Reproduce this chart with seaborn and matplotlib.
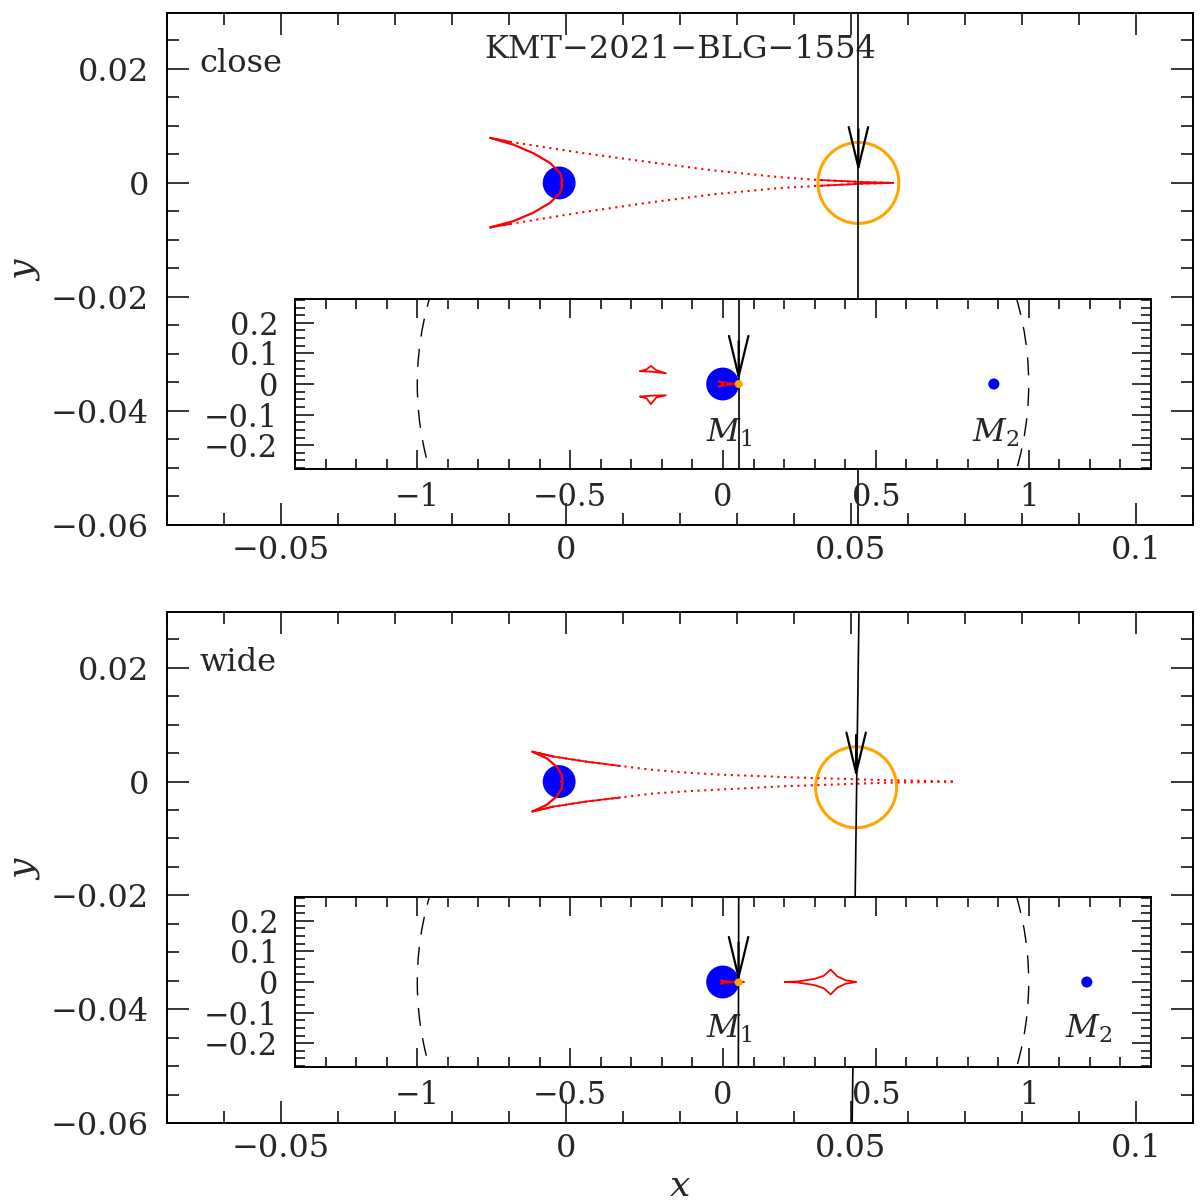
import matplotlib
matplotlib.use("Agg")
import matplotlib.pyplot as plt
from matplotlib.patches import Circle
from matplotlib.ticker import MultipleLocator, FixedLocator, FixedFormatter
import seaborn as sns

sns.set_style("ticks")
plt.rcParams["font.family"] = ["DejaVu Serif"]
plt.rcParams["mathtext.fontset"] = "dejavuserif"

# ---------------- values (units of theta_E) ----------------
event_name = "KMT\u22122021\u2212BLG\u22121554"
panel_names = ["close", "wide"]

# central caustic, close solution
close_arc_x = [-0.0133, -0.0092, -0.0057, -0.0028, -0.00105, -0.0006, -0.0009,
               -0.0006, -0.00105, -0.0028, -0.0057, -0.0092, -0.0133]
close_arc_y = [0.0079, 0.0067, 0.0052, 0.0035, 0.00175, 0.0003, 0.0,
               -0.0003, -0.00175, -0.0035, -0.0052, -0.0067, -0.0078]
close_fold_x = [-0.0133, -0.0098, 0.0025, 0.0142, 0.0258, 0.0375, 0.0446, 0.0522, 0.0574]
close_fold_up = [0.0079, 0.0072, 0.0053, 0.0037, 0.0022, 0.0010, 0.0005, 0.00015, 0.0]
close_fold_lo = [-0.0078, -0.0072, -0.0052, -0.0035, -0.0020, -0.0009, -0.0005, -0.00012, 0.0]

# central caustic, wide solution
wide_arc_x = [-0.0059, -0.0034, -0.0016, -0.00075, -0.0006, -0.0009,
              -0.0006, -0.00075, -0.0016, -0.0034, -0.0059]
wide_arc_y = [0.00525, 0.0041, 0.0026, 0.0012, 0.0002, 0.0,
              -0.0002, -0.0012, -0.0026, -0.0041, -0.00525]
wide_fold_x = [-0.0059, -0.0022, 0.0036, 0.0095, 0.0153, 0.0212, 0.0270,
               0.0329, 0.0387, 0.0446, 0.0504, 0.0563, 0.068]
wide_fold_up = [0.00525, 0.0044, 0.0035, 0.00275, 0.00205, 0.00157, 0.00122,
                0.0010, 0.00077, 0.00059, 0.00042, 0.00025, 0.0]
wide_fold_lo = [-0.00525, -0.0044, -0.0035, -0.0028, -0.0021, -0.0017, -0.0014,
                -0.0011, -0.0008, -0.0006, -0.0004, -0.0002, 0.0]

# planetary caustics (inset)
close_planet_x = [-0.271, -0.250, -0.236, -0.218, -0.187, -0.229, -0.271]
close_planet_up = [0.042, 0.048, 0.059, 0.045, 0.035, 0.040, 0.042]
close_planet_lo = [-0.041, -0.047, -0.066, -0.044, -0.037, -0.038, -0.041]
wide_planet_x = [0.202, 0.243, 0.298, 0.330, 0.352, 0.374, 0.401, 0.436,
                 0.401, 0.374, 0.352, 0.330, 0.298, 0.243, 0.202]
wide_planet_y = [0.0, 0.0016, 0.0098, 0.0205, 0.0407, 0.0183, 0.0057, 0.0,
                 -0.0057, -0.0183, -0.0407, -0.0205, -0.0098, -0.0016, 0.0]

# lenses, source and trajectories
m1_x = [-0.0012, -0.0012]
m2_x = [0.886, 1.19]
source_x = [0.0513, 0.0509]
source_y = [0.0, -0.001]
source_rho = 0.0071
traj_x = [[0.0513, 0.0513], [0.0514, 0.0502]]
traj_y = [0.03, -0.06]
arrow_tip_main = [0.0019, 0.0007]
arrow_tip_inset = [0.01, 0.0]
m_label_y = [-0.16, -0.155]

main_xticks = [-0.05, 0, 0.05, 0.1]
main_xlabels = ["\u22120.05", "0", "0.05", "0.1"]
main_yticks = [0.02, 0, -0.02, -0.04, -0.06]
main_ylabels = ["0.02", "0", "\u22120.02", "\u22120.04", "\u22120.06"]
inset_xticks = [-1, -0.5, 0, 0.5, 1]
inset_xlabels = ["\u22121", "\u22120.5", "0", "0.5", "1"]
inset_yticks = [0.2, 0.1, 0, -0.1, -0.2]
inset_ylabels = ["0.2", "0.1", "0", "\u22120.1", "\u22120.2"]

close_caustic = (close_arc_x, close_arc_y, close_fold_x, close_fold_up, close_fold_lo)
wide_caustic = (wide_arc_x, wide_arc_y, wide_fold_x, wide_fold_up, wide_fold_lo)
caustics = [close_caustic, wide_caustic]

W, H = 1200, 1203
fig = plt.figure(figsize=(W / 100, H / 100), dpi=100)

ARROW = "->,head_length=2.9,head_width=0.7"


def frac(x0, y0, x1, y1):
    return [x0 / W, 1 - y1 / H, (x1 - x0) / W, (y1 - y0) / H]


def style(ax, xt, xl, yt, yl, xminor, yminor, big, small, fs, xpad, ypad):
    ax.xaxis.set_major_locator(FixedLocator(xt))
    ax.xaxis.set_major_formatter(FixedFormatter(xl))
    ax.yaxis.set_major_locator(FixedLocator(yt))
    ax.yaxis.set_major_formatter(FixedFormatter(yl))
    ax.xaxis.set_minor_locator(MultipleLocator(xminor))
    ax.yaxis.set_minor_locator(MultipleLocator(yminor))
    ax.tick_params(which="both", direction="in", top=True, right=True,
                   width=1.1, color="black")
    ax.tick_params(which="major", length=big, labelsize=fs)
    ax.tick_params(which="minor", length=small)
    ax.tick_params(axis="x", pad=xpad)
    ax.tick_params(axis="y", pad=ypad)
    for s in ax.spines.values():
        s.set_linewidth(1.4)
        s.set_color("black")


def draw_caustic(ax, c, dotted=True):
    ax_, ay_, fx, fu, fl = c
    sns.lineplot(x=ax_, y=ay_, sort=False, estimator=None, ax=ax, color="red",
                 lw=1.6, zorder=3)
    for fy in (fu, fl):
        if dotted:
            sns.lineplot(x=fx, y=fy, sort=False, estimator=None, ax=ax,
                         color="red", lw=1.5, linestyle=(0, (1, 2.2)), zorder=3)
            sns.lineplot(x=fx[:2], y=fy[:2], sort=False, estimator=None, ax=ax,
                         color="red", lw=1.4, zorder=3)
        else:
            sns.lineplot(x=fx, y=fy, sort=False, estimator=None, ax=ax,
                         color="red", lw=1.3, zorder=3)


main_boxes = [frac(167, 13, 1193, 525), frac(167, 612, 1193, 1123)]
inset_boxes = [frac(295, 299, 1151, 469), frac(295, 897, 1151, 1067)]

for i in range(2):
    ax = fig.add_axes(main_boxes[i])
    ax.set_xlim(-0.07, 0.11)
    ax.set_ylim(-0.06, 0.0298)
    style(ax, main_xticks, main_xlabels, main_yticks, main_ylabels,
          0.01, 0.005, 16, 8.5, 23, 7, 13)

    draw_caustic(ax, caustics[i])
    if i == 0:
        # solid stretch where the two folds meet at the far cusp
        for fy in (close_fold_up, close_fold_lo):
            sns.lineplot(x=close_fold_x[-3:], y=fy[-3:], sort=False,
                         estimator=None, ax=ax, color="red", lw=1.3, zorder=3)
    else:
        for fy in (wide_fold_up, wide_fold_lo):
            sns.lineplot(x=wide_fold_x[:4], y=fy[:4], sort=False,
                         estimator=None, ax=ax, color="red", lw=1.3, zorder=3)

    sns.scatterplot(x=[m1_x[i]], y=[0.0], ax=ax, s=560, color="blue",
                    edgecolor="none", zorder=2)
    ax.add_patch(Circle((source_x[i], source_y[i]), source_rho, fill=False,
                        ec="orange", lw=2.2, zorder=2.5))
    sns.lineplot(x=traj_x[i], y=traj_y, sort=False, estimator=None, ax=ax,
                 color="black", lw=1.2, zorder=4)
    ax.annotate("", xy=(source_x[i], arrow_tip_main[i]),
                xytext=(source_x[i], arrow_tip_main[i] + 0.0075),
                arrowprops=dict(arrowstyle=ARROW, lw=1.6, color="black",
                                shrinkA=0, shrinkB=0),
                zorder=5)

    ax.text(0.032, 0.902, panel_names[i], transform=ax.transAxes,
            fontsize=23, va="center", ha="left")
    if i == 0:
        ax.text(0.5, 0.928, event_name, transform=ax.transAxes,
                fontsize=23, va="center", ha="center")
    ax.set_ylabel("$y$", fontsize=26)
    ax.yaxis.set_label_coords(-0.122, 0.5)
    if i == 1:
        ax.set_xlabel("$x$", fontsize=26)
        ax.xaxis.set_label_coords(0.5, -0.09)
    else:
        ax.set_xlabel("")

    # ---- inset: full binary lens view ----
    ins = fig.add_axes(inset_boxes[i], zorder=3)
    ins.set_facecolor("white")
    ins.set_xlim(-1.4, 1.4)
    ins.set_ylim(-0.278, 0.278)
    style(ins, inset_xticks, inset_xlabels, inset_yticks, inset_ylabels,
          0.1, 0.025, 14, 7, 22, 9, 12)

    ins.add_patch(Circle((0, 0), 1.0, fill=False, ec="black", lw=1.0,
                         linestyle=(0, (13, 9)), zorder=1))
    sns.scatterplot(x=[m1_x[i]], y=[0.0], ax=ins, s=560, color="blue",
                    edgecolor="none", zorder=2)
    sns.scatterplot(x=[m2_x[i]], y=[0.0], ax=ins, s=64, color="blue",
                    edgecolor="none", zorder=2)
    draw_caustic(ins, caustics[i], dotted=False)
    if i == 0:
        sns.lineplot(x=close_planet_x, y=close_planet_up, sort=False,
                     estimator=None, ax=ins, color="red", lw=1.3)
        sns.lineplot(x=close_planet_x, y=close_planet_lo, sort=False,
                     estimator=None, ax=ins, color="red", lw=1.3)
    else:
        sns.lineplot(x=wide_planet_x, y=wide_planet_y, sort=False,
                     estimator=None, ax=ins, color="red", lw=1.3)
    ins.add_patch(Circle((source_x[i], source_y[i]), source_rho, fill=True,
                         fc="orange", ec="orange", lw=2.6, zorder=4.5))
    sns.lineplot(x=traj_x[i], y=[0.3, -0.3], sort=False, estimator=None,
                 ax=ins, color="black", lw=1.2, zorder=4)
    ins.annotate("", xy=(source_x[i], arrow_tip_inset[i]),
                 xytext=(source_x[i], arrow_tip_inset[i] + 0.13),
                 arrowprops=dict(arrowstyle=ARROW, lw=1.6, color="black",
                                 shrinkA=0, shrinkB=0),
                 zorder=5)
    ins.text(0.02, m_label_y[i], "$M_1$", fontsize=23, ha="center", va="center")
    ins.text(m2_x[i] + 0.005, m_label_y[i], "$M_2$", fontsize=23,
             ha="center", va="center")
    ins.set_xlabel("")
    ins.set_ylabel("")

fig.savefig("out.png", dpi=100)
